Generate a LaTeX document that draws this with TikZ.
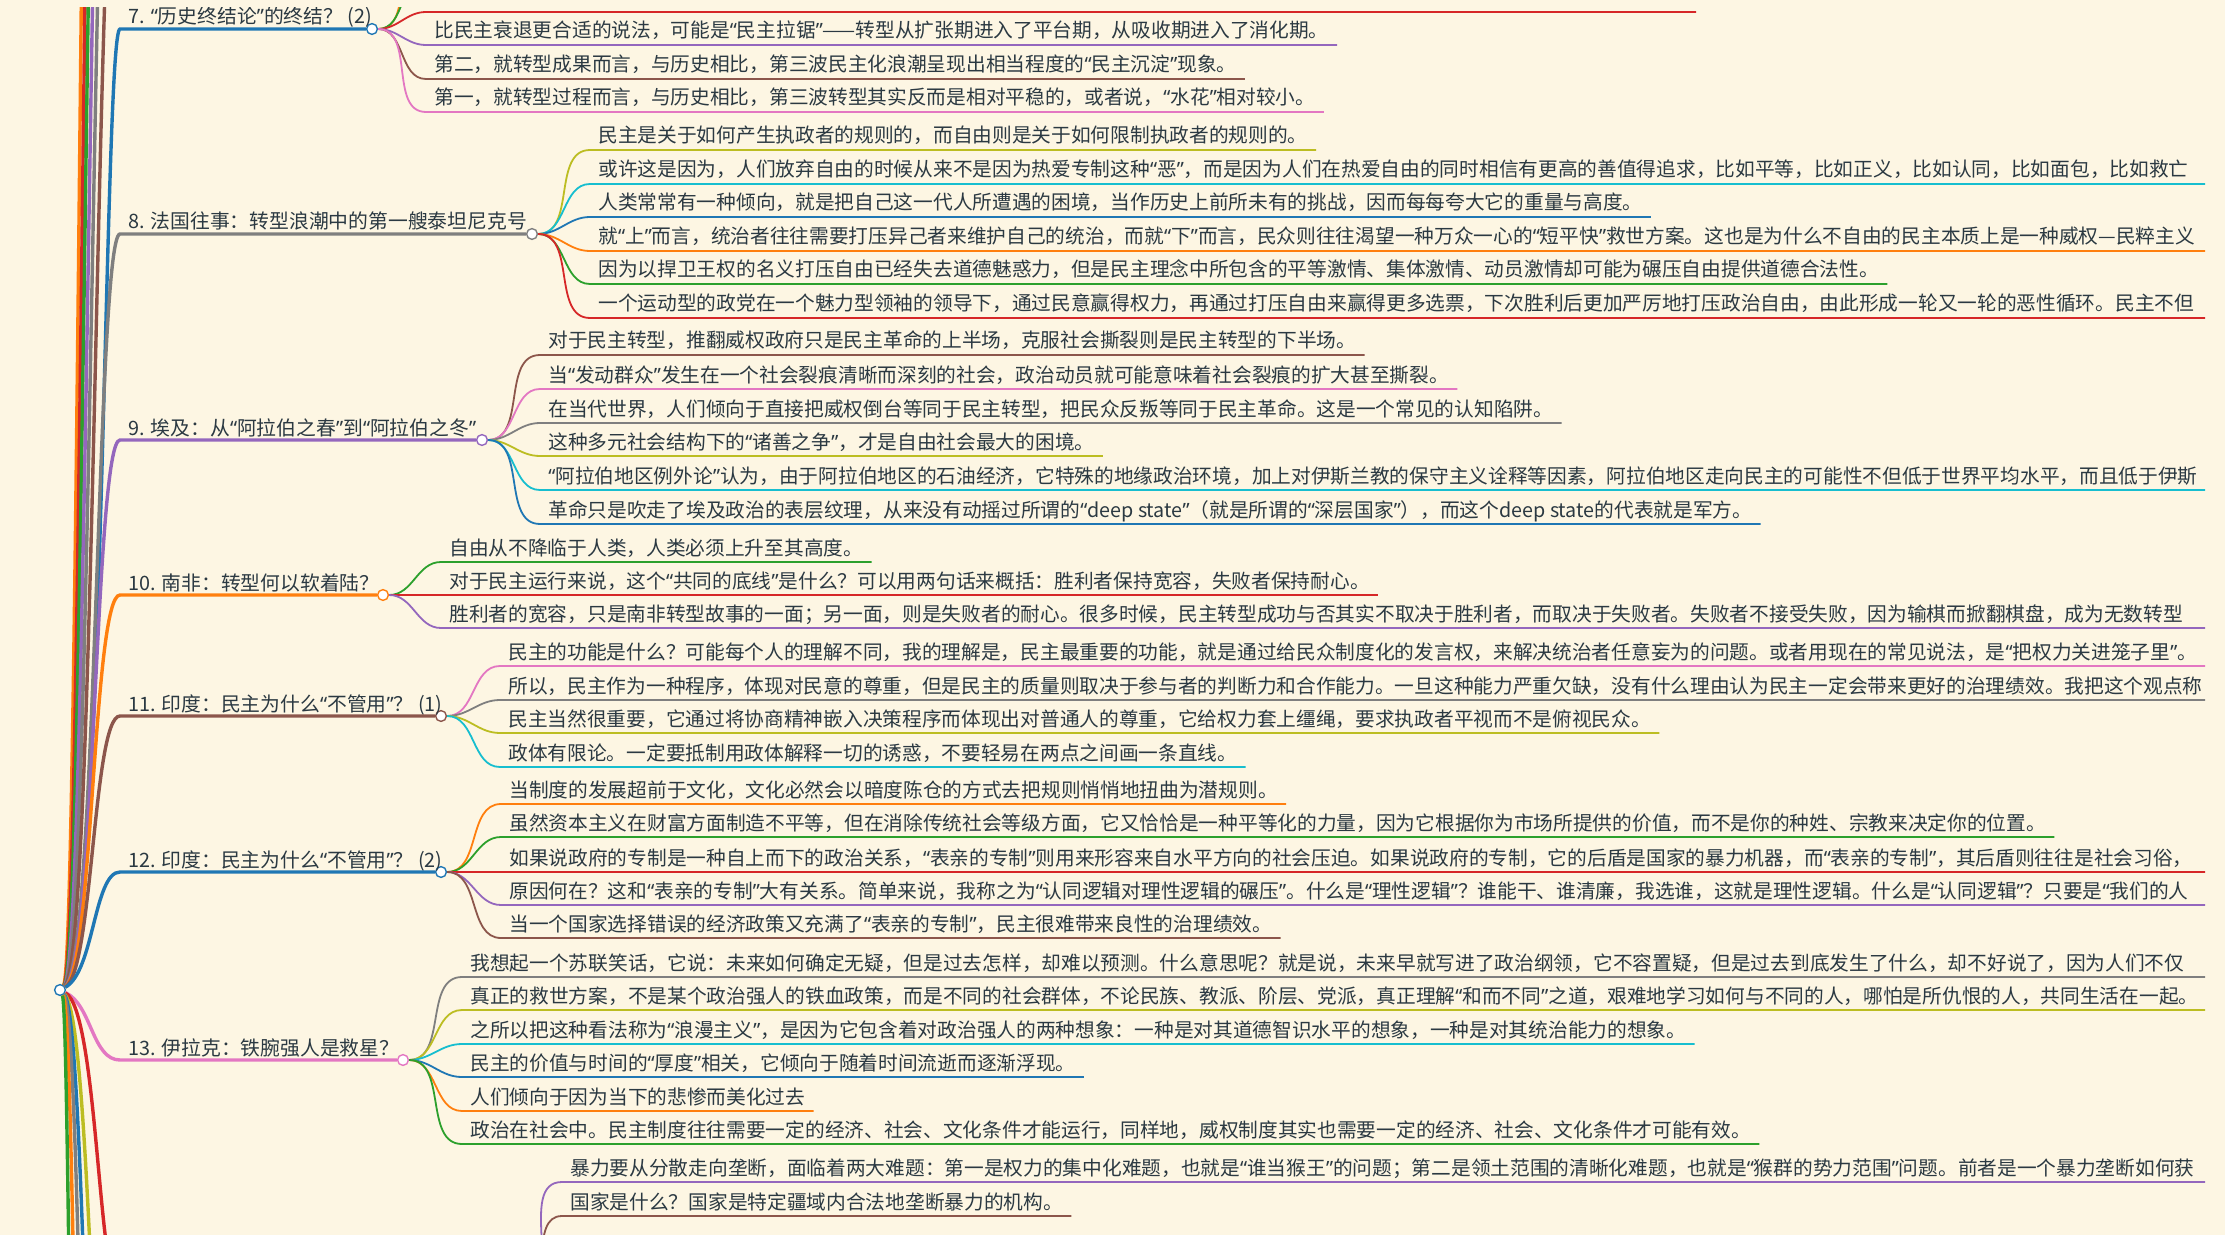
\documentclass[tikz,border=0pt]{standalone}
\usepackage{fontspec}
\setmainfont{Noto Sans CJK SC}
\newfontfamily\quotefont{Noto Sans}
\catcode`\“=\active
\catcode`\”=\active
\def“{{\quotefont\char"201C}}
\def”{{\quotefont\char"201D}}
\usetikzlibrary{positioning}
\definecolor{bgcream}{HTML}{FDF6E3}
\definecolor{ink}{HTML}{2B3942}
\definecolor{cblue}{HTML}{1F77B4}
\definecolor{corange}{HTML}{FF7F0E}
\definecolor{cgreen}{HTML}{2CA02C}
\definecolor{cred}{HTML}{D62728}
\definecolor{cpurple}{HTML}{9467BD}
\definecolor{cbrown}{HTML}{8C564B}
\definecolor{cpink}{HTML}{E377C2}
\definecolor{cgray}{HTML}{7F7F7F}
\definecolor{colive}{HTML}{BCBD22}
\definecolor{ccyan}{HTML}{17BECF}

\begin{document}
\begin{tikzpicture}[x=0.5pt,y=-0.5pt,
    trunk/.style={line width=1.7pt},
    twig/.style={line width=0.9pt},
    knob/.style={circle,draw,fill=white,line width=0.7pt,inner sep=0pt,minimum size=5.4pt},
    topic/.style={anchor=south west,inner xsep=4pt,inner ysep=0.3pt,text=ink,text depth=0.2em,font=\fontsize{9.9pt}{11pt}\selectfont},
    leaf/.style={anchor=south west,inner xsep=4pt,inner ysep=1.3pt,text=ink,text depth=0.2em,font=\fontsize{9.85pt}{11pt}\selectfont},
    cut/.style={text width=2000pt,align=left}]

    \useasboundingbox (0,0) rectangle (2225,1235);
    \fill[bgcream] (0,0) rectangle (2225,1235);

    \begin{scope}
    \clip (-10,-300) rectangle (2205,1600);

    % root and the branch knobs
    \node[knob, draw=cblue] (root) at (60,990) {};
    \node[knob, draw=cblue] (k7) at (372,29) {};
    \node[knob, draw=cgray] (k8) at (532,234) {};
    \node[knob, draw=cpurple] (k9) at (482,440) {};
    \node[knob, draw=corange] (k10) at (383,595) {};
    \node[knob, draw=cbrown] (k11) at (441,716) {};
    \node[knob, draw=cblue] (k12) at (441,872) {};
    \node[knob, draw=cpink] (k13) at (403,1060) {};
    \node[knob, draw=cred] (k14) at (515,1292) {};

    % branch titles
    \node[topic] (t7) at (120,29) {7. “历史终结论”的终结？ (2)};
    \node[topic] (t8) at (120,234) {8. 法国往事：转型浪潮中的第一艘泰坦尼克号};
    \node[topic] (t9) at (120,440) {9. 埃及：从“阿拉伯之春”到“阿拉伯之冬”};
    \node[topic] (t10) at (120,595) {10. 南非：转型何以软着陆？};
    \node[topic] (t11) at (120,716) {11. 印度：民主为什么“不管用”？ (1)};
    \node[topic] (t12) at (120,872) {12. 印度：民主为什么“不管用”？ (2)};
    \node[topic] (t13) at (120,1060) {13. 伊拉克：铁腕强人是救星？};
    \coordinate (t14) at (120,1292);

    % branches out of view
    \coordinate (t1) at (120,-1550);
    \coordinate (t2) at (120,-1250);
    \coordinate (t3) at (120,-960);
    \coordinate (t4) at (120,-720);
    \coordinate (t5) at (120,-480);
    \coordinate (t6) at (120,-210);
    \coordinate (t15) at (120,1600);
    \coordinate (t16) at (120,1900);
    \coordinate (t17) at (120,2200);
    \coordinate (t18) at (120,2500);
    \coordinate (t19) at (120,2800);

    \draw[trunk, corange] (root) .. controls (82,960) and (82,-1550) .. (t1);
    \draw[trunk, cred] (root) .. controls (85,960) and (85,-1250) .. (t2);
    \draw[trunk, cgreen] (root) .. controls (87,960) and (87,-960) .. (t3);
    \draw[trunk, cpurple] (root) .. controls (90,960) and (90,-720) .. (t4);
    \draw[trunk, cgray] (root) .. controls (93,960) and (93,-480) .. (t5);
    \draw[trunk, cbrown] (root) .. controls (96,960) and (96,-210) .. (t6);
    \draw[trunk, cblue] (root) .. controls (104,960) and (104,29) .. (t7.south west) -- (k7);
    \draw[trunk, cgray] (root) .. controls (97,965) and (97,234) .. (t8.south west) -- (k8);
    \draw[trunk, cpurple] (root) .. controls (95,968) and (95,440) .. (t9.south west) -- (k9);
    \draw[trunk, corange] (root) .. controls (93,970) and (93,595) .. (t10.south west) -- (k10);
    \draw[trunk, cbrown] (root) .. controls (93,972) and (93,716) .. (t11.south west) -- (k11);
    \draw[trunk, cblue] (root) .. controls (94,972) and (94,872) .. (t12.south west) -- (k12);
    \draw[trunk, cpink] (root) .. controls (92,1005) and (92,1060) .. (t13.south west) -- (k13);
    \draw[trunk, cred] (root) .. controls (98,1010) and (98,1292) .. (t14) -- (k14);
    \draw[trunk, colive] (root) .. controls (93,1020) and (93,1600) .. (t15);
    \draw[trunk, cblue] (root) .. controls (89,1020) and (89,1900) .. (t16);
    \draw[trunk, cgray] (root) .. controls (85,1020) and (85,2200) .. (t17);
    \draw[trunk, corange] (root) .. controls (79,1020) and (79,2500) .. (t18);
    \draw[trunk, cgreen] (root) .. controls (73,1020) and (73,2800) .. (t19);

    % 7
    \coordinate (u70) at (426,-55);
    \coordinate (u71) at (426,-22);
    \coordinate (u72) at (426,12);
    \coordinate (u72e) at (1696,12);
    \node[leaf] (l73) at (426,45) {比民主衰退更合适的说法，可能是“民主拉锯”——转型从扩张期进入了平台期，从吸收期进入了消化期。};
    \node[leaf] (l74) at (426,79) {第二，就转型成果而言，与历史相比，第三波民主化浪潮呈现出相当程度的“民主沉淀”现象。};
    \node[leaf] (l75) at (426,112) {第一，就转型过程而言，与历史相比，第三波转型其实反而是相对平稳的，或者说，“水花”相对较小。};
    \draw[twig, corange] (k7) to[out=0,in=180] (u70);
    \draw[twig, cgreen] (k7) to[out=0,in=180] (u71);
    \draw[twig, cred] (k7) to[out=0,in=180] (u72) -- (u72e);
    \draw[twig, cpurple] (k7) to[out=0,in=180] (l73.south west) -- (l73.south east);
    \draw[twig, cbrown] (k7) to[out=0,in=180] (l74.south west) -- (l74.south east);
    \draw[twig, cpink] (k7) to[out=0,in=180] (l75.south west) -- (l75.south east);

    % 8
    \node[leaf] (l81) at (590,150) {民主是关于如何产生执政者的规则的，而自由则是关于如何限制执政者的规则的。};
    \node[leaf, cut] (l82) at (590,184) {或许这是因为，人们放弃自由的时候从来不是因为热爱专制这种“恶”，而是因为人们在热爱自由的同时相信有更高的善值得追求，比如平等，比如正义，比如认同，比如面包，比如救亡};
    \node[leaf] (l83) at (590,217) {人类常常有一种倾向，就是把自己这一代人所遭遇的困境，当作历史上前所未有的挑战，因而每每夸大它的重量与高度。};
    \node[leaf, cut] (l84) at (590,251) {就“上”而言，统治者往往需要打压异己者来维护自己的统治，而就“下”而言，民众则往往渴望一种万众一心的“短平快”救世方案。这也是为什么不自由的民主本质上是一种威权—民粹主义};
    \node[leaf] (l85) at (590,284) {因为以捍卫王权的名义打压自由已经失去道德魅惑力，但是民主理念中所包含的平等激情、集体激情、动员激情却可能为碾压自由提供道德合法性。};
    \node[leaf, cut] (l86) at (590,318) {一个运动型的政党在一个魅力型领袖的领导下，通过民意赢得权力，再通过打压自由来赢得更多选票，下次胜利后更加严厉地打压政治自由，由此形成一轮又一轮的恶性循环。民主不但};
    \draw[twig, colive] (k8) to[out=0,in=180] (l81.south west) -- (l81.south east);
    \draw[twig, ccyan] (k8) to[out=0,in=180] (l82.south west) -- (l82.south east);
    \draw[twig, cblue] (k8) to[out=0,in=180] (l83.south west) -- (l83.south east);
    \draw[twig, corange] (k8) to[out=0,in=180] (l84.south west) -- (l84.south east);
    \draw[twig, cgreen] (k8) to[out=0,in=180] (l85.south west) -- (l85.south east);
    \draw[twig, cred] (k8) to[out=0,in=180] (l86.south west) -- (l86.south east);

    % 9
    \node[leaf] (l91) at (540,355) {对于民主转型，推翻威权政府只是民主革命的上半场，克服社会撕裂则是民主转型的下半场。};
    \node[leaf] (l92) at (540,389) {当“发动群众”发生在一个社会裂痕清晰而深刻的社会，政治动员就可能意味着社会裂痕的扩大甚至撕裂。};
    \node[leaf] (l93) at (540,423) {在当代世界，人们倾向于直接把威权倒台等同于民主转型，把民众反叛等同于民主革命。这是一个常见的认知陷阱。};
    \node[leaf] (l94) at (540,456) {这种多元社会结构下的“诸善之争”，才是自由社会最大的困境。};
    \node[leaf, cut] (l95) at (540,490) {“阿拉伯地区例外论”认为，由于阿拉伯地区的石油经济，它特殊的地缘政治环境，加上对伊斯兰教的保守主义诠释等因素，阿拉伯地区走向民主的可能性不但低于世界平均水平，而且低于伊斯};
    \node[leaf] (l96) at (540,524) {革命只是吹走了埃及政治的表层纹理，从来没有动摇过所谓的“deep state”（就是所谓的“深层国家”），而这个deep state的代表就是军方。};
    \draw[twig, cbrown] (k9) to[out=0,in=180] (l91.south west) -- (l91.south east);
    \draw[twig, cpink] (k9) to[out=0,in=180] (l92.south west) -- (l92.south east);
    \draw[twig, cgray] (k9) to[out=0,in=180] (l93.south west) -- (l93.south east);
    \draw[twig, colive] (k9) to[out=0,in=180] (l94.south west) -- (l94.south east);
    \draw[twig, ccyan] (k9) to[out=0,in=180] (l95.south west) -- (l95.south east);
    \draw[twig, cblue] (k9) to[out=0,in=180] (l96.south west) -- (l96.south east);

    % 10
    \node[leaf] (l101) at (441,562) {自由从不降临于人类，人类必须上升至其高度。};
    \node[leaf] (l102) at (441,595) {对于民主运行来说，这个“共同的底线”是什么？可以用两句话来概括：胜利者保持宽容，失败者保持耐心。};
    \node[leaf, cut] (l103) at (441,628) {胜利者的宽容，只是南非转型故事的一面；另一面，则是失败者的耐心。很多时候，民主转型成功与否其实不取决于胜利者，而取决于失败者。失败者不接受失败，因为输棋而掀翻棋盘，成为无数转型};
    \draw[twig, cgreen] (k10) to[out=0,in=180] (l101.south west) -- (l101.south east);
    \draw[twig, cred] (k10) to[out=0,in=180] (l102.south west) -- (l102.south east);
    \draw[twig, cpurple] (k10) to[out=0,in=180] (l103.south west) -- (l103.south east);

    % 11
    \node[leaf, cut] (l111) at (500,666) {民主的功能是什么？可能每个人的理解不同，我的理解是，民主最重要的功能，就是通过给民众制度化的发言权，来解决统治者任意妄为的问题。或者用现在的常见说法，是“把权力关进笼子里”。};
    \node[leaf, cut] (l112) at (500,700) {所以，民主作为一种程序，体现对民意的尊重，但是民主的质量则取决于参与者的判断力和合作能力。一旦这种能力严重欠缺，没有什么理由认为民主一定会带来更好的治理绩效。我把这个观点称};
    \node[leaf] (l113) at (500,733) {民主当然很重要，它通过将协商精神嵌入决策程序而体现出对普通人的尊重，它给权力套上缰绳，要求执政者平视而不是俯视民众。};
    \node[leaf] (l114) at (500,767) {政体有限论。一定要抵制用政体解释一切的诱惑，不要轻易在两点之间画一条直线。};
    \draw[twig, cpink] (k11) to[out=0,in=180] (l111.south west) -- (l111.south east);
    \draw[twig, cgray] (k11) to[out=0,in=180] (l112.south west) -- (l112.south east);
    \draw[twig, colive] (k11) to[out=0,in=180] (l113.south west) -- (l113.south east);
    \draw[twig, ccyan] (k11) to[out=0,in=180] (l114.south west) -- (l114.south east);

    % 12
    \node[leaf] (l121) at (501,804) {当制度的发展超前于文化，文化必然会以暗度陈仓的方式去把规则悄悄地扭曲为潜规则。};
    \node[leaf] (l122) at (501,837) {虽然资本主义在财富方面制造不平等，但在消除传统社会等级方面，它又恰恰是一种平等化的力量，因为它根据你为市场所提供的价值，而不是你的种姓、宗教来决定你的位置。};
    \node[leaf, cut] (l123) at (501,872) {如果说政府的专制是一种自上而下的政治关系，“表亲的专制”则用来形容来自水平方向的社会压迫。如果说政府的专制，它的后盾是国家的暴力机器，而“表亲的专制”，其后盾则往往是社会习俗，};
    \node[leaf, cut] (l124) at (501,905) {原因何在？这和“表亲的专制”大有关系。简单来说，我称之为“认同逻辑对理性逻辑的碾压”。什么是“理性逻辑”？谁能干、谁清廉，我选谁，这就是理性逻辑。什么是“认同逻辑”？只要是“我们的人};
    \node[leaf] (l125) at (501,938) {当一个国家选择错误的经济政策又充满了“表亲的专制”，民主很难带来良性的治理绩效。};
    \draw[twig, corange] (k12) to[out=0,in=180] (l121.south west) -- (l121.south east);
    \draw[twig, cgreen] (k12) to[out=0,in=180] (l122.south west) -- (l122.south east);
    \draw[twig, cred] (k12) to[out=0,in=180] (l123.south west) -- (l123.south east);
    \draw[twig, cpurple] (k12) to[out=0,in=180] (l124.south west) -- (l124.south east);
    \draw[twig, cbrown] (k12) to[out=0,in=180] (l125.south west) -- (l125.south east);

    % 13
    \node[leaf, cut] (l131) at (462,977) {我想起一个苏联笑话，它说：未来如何确定无疑，但是过去怎样，却难以预测。什么意思呢？就是说，未来早就写进了政治纲领，它不容置疑，但是过去到底发生了什么，却不好说了，因为人们不仅};
    \node[leaf, cut] (l132) at (462,1010) {真正的救世方案，不是某个政治强人的铁血政策，而是不同的社会群体，不论民族、教派、阶层、党派，真正理解“和而不同”之道，艰难地学习如何与不同的人，哪怕是所仇恨的人，共同生活在一起。};
    \node[leaf] (l133) at (462,1044) {之所以把这种看法称为“浪漫主义”，是因为它包含着对政治强人的两种想象：一种是对其道德智识水平的想象，一种是对其统治能力的想象。};
    \node[leaf] (l134) at (462,1077) {民主的价值与时间的“厚度”相关，它倾向于随着时间流逝而逐渐浮现。};
    \node[leaf] (l135) at (462,1111) {人们倾向于因为当下的悲惨而美化过去};
    \node[leaf] (l136) at (462,1144) {政治在社会中。民主制度往往需要一定的经济、社会、文化条件才能运行，同样地，威权制度其实也需要一定的经济、社会、文化条件才可能有效。};
    \draw[twig, cgray] (k13) to[out=0,in=180] (l131.south west) -- (l131.south east);
    \draw[twig, colive] (k13) to[out=0,in=180] (l132.south west) -- (l132.south east);
    \draw[twig, ccyan] (k13) to[out=0,in=180] (l133.south west) -- (l133.south east);
    \draw[twig, cblue] (k13) to[out=0,in=180] (l134.south west) -- (l134.south east);
    \draw[twig, corange] (k13) to[out=0,in=180] (l135.south west) -- (l135.south east);
    \draw[twig, cgreen] (k13) to[out=0,in=180] (l136.south west) -- (l136.south east);

    % 14
    \node[leaf, cut] (l141) at (562,1182) {暴力要从分散走向垄断，面临着两大难题：第一是权力的集中化难题，也就是“谁当猴王”的问题；第二是领土范围的清晰化难题，也就是“猴群的势力范围”问题。前者是一个暴力垄断如何获};
    \node[leaf] (l142) at (562,1216) {国家是什么？国家是特定疆域内合法地垄断暴力的机构。};
    \draw[twig, cpurple] (k14) to[out=0,in=180] (l141.south west) -- (l141.south east);
    \draw[twig, cbrown] (k14) to[out=0,in=180] (l142.south west) -- (l142.south east);
    \end{scope}

    % the view is cut just below its top edge
    \fill[bgcream] (0,0) rectangle (2225,7);
\end{tikzpicture}
\end{document}
